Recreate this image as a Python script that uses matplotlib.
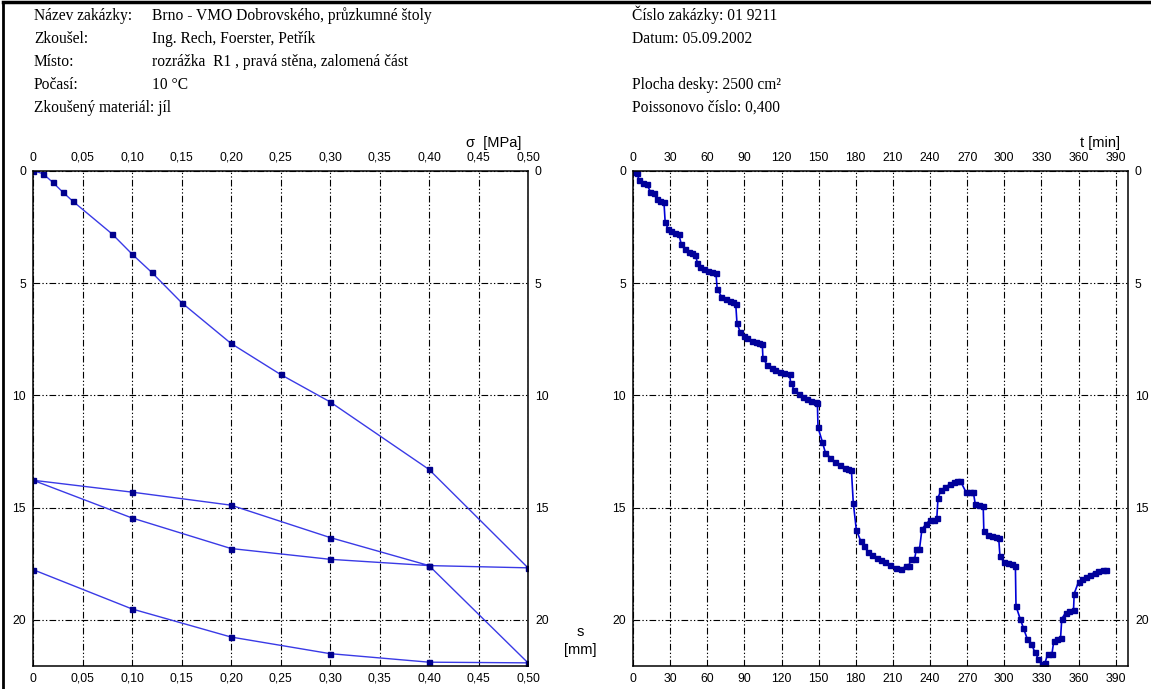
import matplotlib
matplotlib.use("Agg")
import matplotlib.pyplot as plt
from matplotlib.lines import Line2D
from matplotlib.ticker import FuncFormatter

# zatěžovací zkouška deskou - sednutí vs. napětí
sigma = [0, 0.01, 0.02, 0.03, 0.04, 0.08, 0.10, 0.12, 0.15, 0.20, 0.25, 0.30, 0.40, 0.50,
         0.40, 0.30, 0.20, 0.10, 0,
         0.10, 0.20, 0.30, 0.40, 0.50,
         0.40, 0.30, 0.20, 0.10, 0]
s_sigma = [0, 0.13, 0.52, 0.95, 1.35, 2.82, 3.71, 4.53, 5.87, 7.69, 9.07, 10.29, 13.30, 17.68,
           17.58, 17.30, 16.82, 15.46, 13.78,
           14.31, 14.89, 16.33, 17.58, 21.91,
           21.88, 21.50, 20.76, 19.51, 17.76]

# sednutí v čase
t_min = [0, 3, 5, 8, 11, 14, 17, 19, 22, 25, 26, 28.5, 31, 34, 37, 39, 42, 45, 48, 50.5,
         52, 54, 57, 61, 64, 67, 68, 71.5, 75, 78, 80.5, 83, 84, 86.5, 89.5, 92.5, 96, 99,
         102, 104.5, 105, 108.5, 112, 115, 118.5, 122, 126.5, 127.5, 130.5, 134, 137.5,
         140.5, 144, 147.5, 149, 149.5, 153, 155.5, 159.5, 163, 167, 171, 174, 176.5, 178,
         180.5, 184, 186.5, 190, 193.5, 197, 200.5, 204, 208, 212.5, 216.5, 220.5, 223,
         224.5, 227.5, 229, 231.5, 233.5, 237, 240, 243, 245.5, 246.5, 249, 252.5, 256,
         259, 262, 264.5, 269, 272.5, 275, 276.5, 279.5, 283, 283.5, 287, 290, 293, 295.5,
         296.5, 299.5, 303, 306, 309, 309.5, 313, 315.5, 318.5, 322, 324.5, 327.5, 330.5,
         333, 335, 338.5, 340, 342.5, 345.5, 346.5, 349.5, 352.5, 356, 356.5, 360, 363,
         366, 369.5, 373, 376, 379.5, 382]
s_time = [0.05, 0.12, 0.41, 0.53, 0.59, 0.93, 1.00, 1.26, 1.34, 1.38, 2.30, 2.60, 2.69, 2.76,
          2.82, 3.27, 3.50, 3.60, 3.68, 3.75, 4.10, 4.28, 4.38, 4.45, 4.51, 4.54, 5.25, 5.61,
          5.70, 5.79, 5.86, 5.92, 6.77, 7.17, 7.35, 7.47, 7.57, 7.63, 7.67, 7.72, 8.36, 8.65,
          8.80, 8.88, 8.95, 9.00, 9.07, 9.47, 9.77, 9.92, 10.07, 10.17, 10.24, 10.29, 10.33,
          11.43, 12.07, 12.56, 12.78, 12.96, 13.11, 13.23, 13.30, 13.33, 14.79, 16.00, 16.48,
          16.72, 16.97, 17.09, 17.24, 17.34, 17.44, 17.56, 17.67, 17.74, 17.61, 17.59, 17.30,
          17.30, 16.85, 16.85, 15.96, 15.71, 15.56, 15.53, 15.48, 14.55, 14.22, 14.08, 13.96,
          13.85, 13.81, 13.81, 14.30, 14.30, 14.30, 14.82, 14.89, 14.94, 16.04, 16.20, 16.26,
          16.30, 16.33, 17.15, 17.41, 17.46, 17.52, 17.59, 19.39, 19.97, 20.36, 20.83, 21.05,
          21.42, 21.72, 21.97, 21.90, 21.53, 21.53, 20.95, 20.83, 20.80, 19.94, 19.69, 19.60,
          19.54, 18.83, 18.31, 18.19, 18.08, 17.98, 17.89, 17.82, 17.79, 17.79]

sigma_ticks = [0, 0.05, 0.10, 0.15, 0.20, 0.25, 0.30, 0.35, 0.40, 0.45, 0.50]
t_ticks = list(range(0, 391, 30))
s_ticks = [0, 5, 10, 15, 20]

header_left = [("Název zakázky:", "Brno - VMO Dobrovského, průzkumné štoly"),
               ("Zkoušel:", "Ing. Rech, Foerster, Petřík"),
               ("Místo:", "rozrážka  R1 , pravá stěna, zalomená část"),
               ("Počasí:", "10 °C"),
               ("Zkoušený materiál: jíl", "")]
header_right = ["Číslo zakázky: 01 9211", "Datum: 05.09.2002", "",
                "Plocha desky: 2500 cm²", "Poissonovo číslo: 0,400"]

W, H = 1151, 689
fig = plt.figure(figsize=(W / 100, H / 100), dpi=100)
fig.patch.set_facecolor("white")

# ramecek
fig.add_artist(Line2D([3 / W, 1], [1 - 2 / H, 1 - 2 / H], color="black", lw=2.5))
fig.add_artist(Line2D([3 / W, 3 / W], [0, 1 - 2 / H], color="black", lw=2.0))

serif = "Liberation Serif"
fs_head = 11.2
for i, (lab, val) in enumerate(header_left):
    y = 1 - (20 + 23 * i) / H
    fig.text(34 / W, y, lab, family=serif, fontsize=fs_head, va="baseline")
    if val:
        fig.text(152 / W, y, val, family=serif, fontsize=fs_head, va="baseline")
for i, txt in enumerate(header_right):
    if txt:
        fig.text(632 / W, 1 - (20 + 23 * i) / H, txt, family=serif, fontsize=fs_head,
                 va="baseline")

grid_ls = (0, (6, 2, 1.2, 2, 1.2, 2))
sans = "Liberation Sans"


def style_axes(ax):
    for sp in ax.spines.values():
        sp.set_linewidth(1.1)
        sp.set_color("black")
    ax.tick_params(length=0, labeltop=True, labelbottom=True, labelleft=True,
                   labelright=True, labelsize=8.8, pad=5)
    for lab in ax.get_xticklabels() + ax.get_yticklabels():
        lab.set_family(sans)
    ax.grid(True, color="black", linestyle=grid_ls, linewidth=0.8)
    ax.set_axisbelow(True)


bottom = 1 - 666 / H
height = 495.3 / H
ax1 = fig.add_axes([33 / W, bottom, 495 / W, height])
ax2 = fig.add_axes([633 / W, bottom, 495 / W, height])

ax1.plot(sigma, s_sigma, color="#3a3ae6", lw=1.0, marker="s", ms=3.6,
         mfc="#00008c", mec="#00008c")
ax1.set_xlim(0, 0.5)
ax1.set_ylim(22.05, 0)
ax1.set_xticks(sigma_ticks)
ax1.set_yticks(s_ticks)
ax1.xaxis.set_major_formatter(FuncFormatter(
    lambda v, p: "0" if abs(v) < 1e-9 else f"{v:.2f}".replace(".", ",")))
style_axes(ax1)

ax2.plot(t_min, s_time, color="#0000d8", lw=1.2, marker="s", ms=3.6,
         mfc="#00009a", mec="#00009a")
ax2.set_xlim(0, 400)
ax2.set_ylim(22.05, 0)
ax2.set_xticks(t_ticks)
ax2.set_yticks(s_ticks)
style_axes(ax2)

fig.text(521 / W, 1 - 143 / H, "σ  [MPa]", family=sans, fontsize=10.5, ha="right", va="center")
fig.text(1120 / W, 1 - 143 / H, "t [min]", family=sans, fontsize=10.5, ha="right", va="center")
fig.text(580 / W, 1 - 632 / H, "s", family=sans, fontsize=10.5, ha="center", va="center")
fig.text(580 / W, 1 - 650 / H, "[mm]", family=sans, fontsize=10.5, ha="center", va="center")

fig.savefig("out.png", dpi=100)
